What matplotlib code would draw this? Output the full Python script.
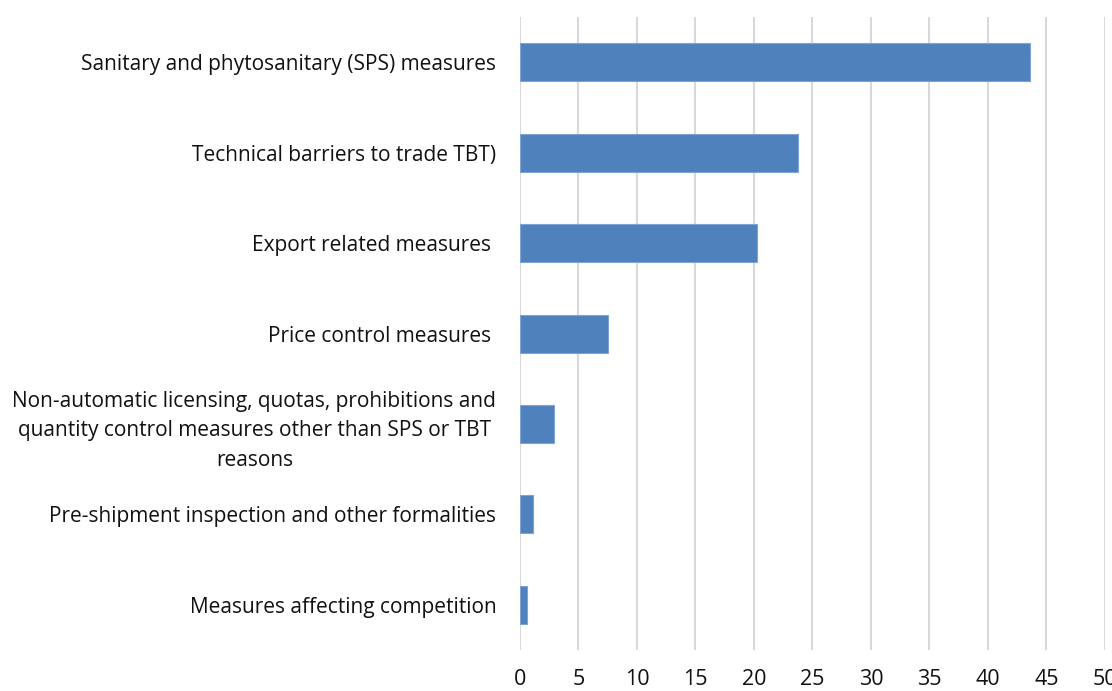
import matplotlib
matplotlib.use('Agg')
import matplotlib.pyplot as plt

# Categories from top to bottom
categories = ['Sanitary and phytosanitary (SPS) measures',
              'Technical barriers to trade TBT)',
              'Export related measures ',
              'Price control measures ',
              'Non-automatic licensing, quotas, prohibitions and\nquantity control measures other than SPS or TBT\nreasons',
              'Pre-shipment inspection and other formalities',
              'Measures affecting competition']
values = [43.6, 23.8, 20.3, 7.5, 2.9, 1.1, 0.6]
x_ticks = [0, 5, 10, 15, 20, 25, 30, 35, 40, 45, 50]

plt.rcParams['font.family'] = ['Open Sans', 'DejaVu Sans']

fig = plt.figure(figsize=(11.12, 6.91), dpi=100)
ax = fig.add_axes([0.4676, 0.0593, 0.5261, 0.9161])

pos = list(range(len(categories)))[::-1]
ax.barh(pos, values, height=0.42, color='#4F81BD', edgecolor='#7FA3D3', linewidth=0.8, zorder=3)

ax.set_xlim(0, 50)
ax.set_ylim(-0.5, len(categories) - 0.5)
ax.set_xticks(x_ticks)
ax.set_yticks(pos)
ax.set_yticklabels(categories, fontsize=15, color='#111111', linespacing=1.55)
for lab in ax.get_yticklabels():
    lab.set_multialignment('center')
ax.tick_params(axis='x', labelsize=15.5, colors='#111111', length=0, pad=14)
ax.tick_params(axis='y', length=0, pad=17)
ax.xaxis.grid(True, color='#D9D9D9', linewidth=1.5, zorder=0)
for s in ax.spines.values():
    s.set_visible(False)

fig.savefig('out.png', dpi=100)
